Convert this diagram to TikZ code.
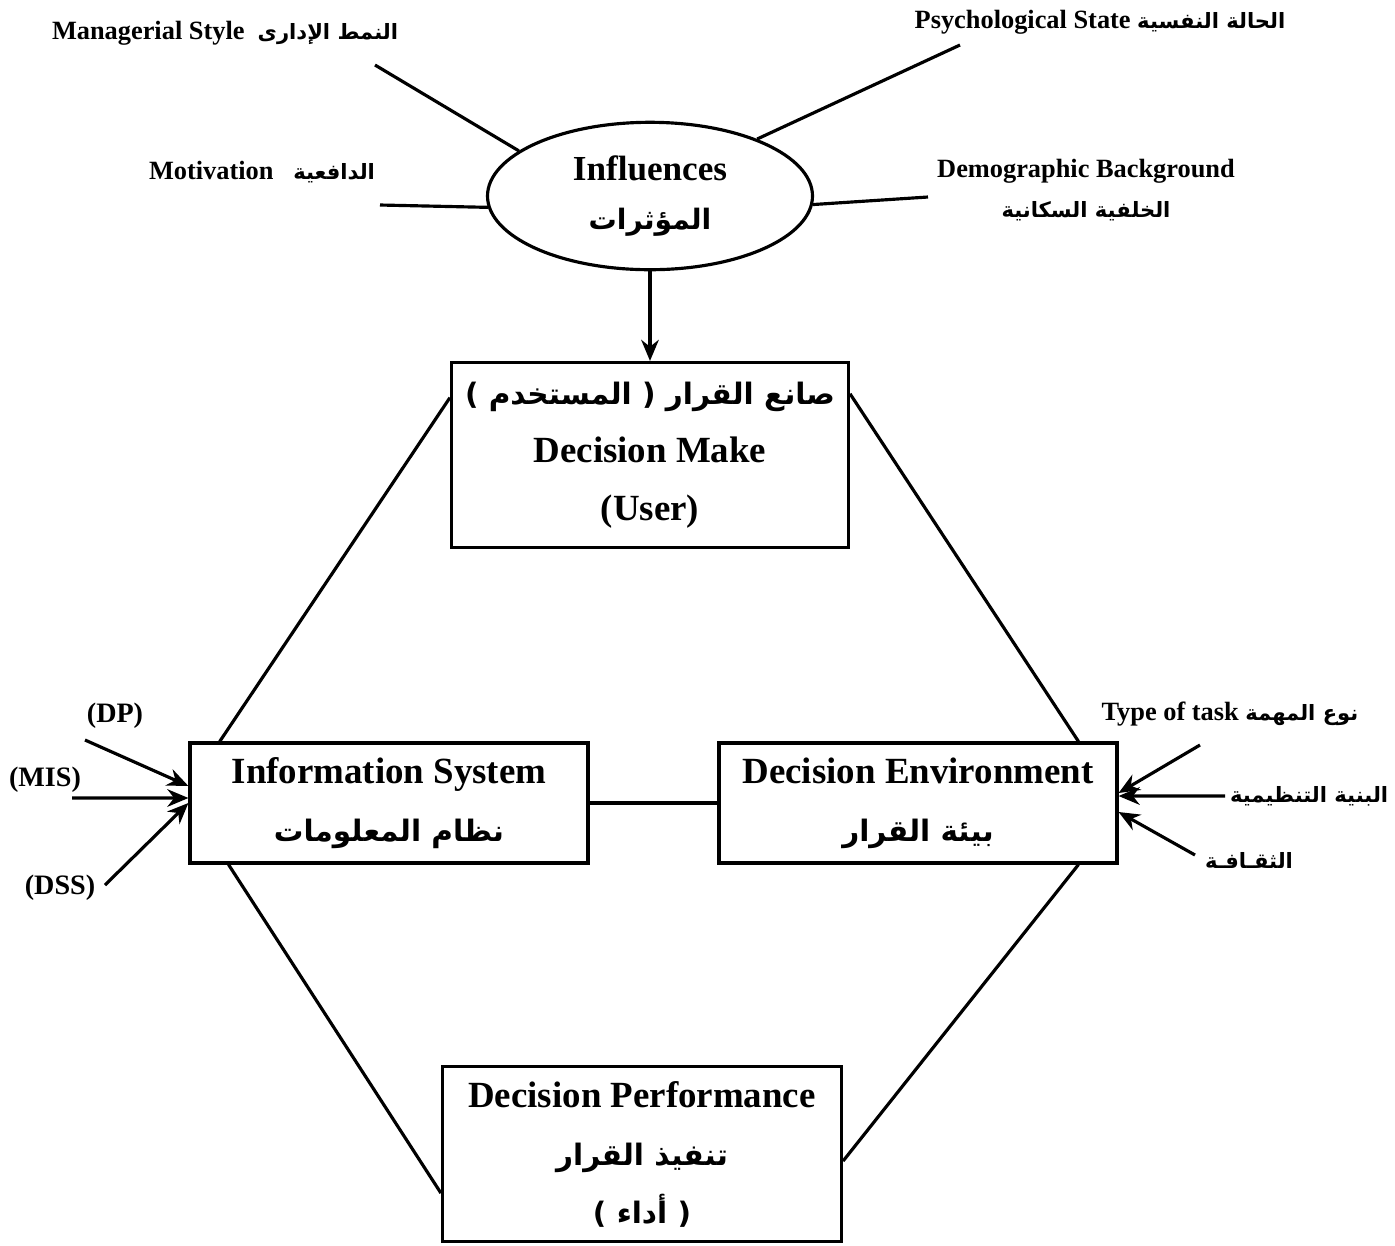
\documentclass[tikz,border=0pt]{standalone}
\usepackage{fontspec}
\setmainfont{Liberation Serif}
\newfontfamily\arabicfont[Script=Arabic,Scale=0.8]{DejaVu Sans}
\TeXXeTstate=1
\usetikzlibrary{shapes.geometric, arrows.meta}
\newcommand{\arb}[1]{{\arabicfont\beginR #1\endR}}

\begin{document}
\begin{tikzpicture}[x=0.1mm, y=-0.1mm, >={Stealth[length=6pt, width=5pt]}, line width=0.9pt]
\tikzset{
  box/.style={draw, rectangle, align=center, inner xsep=2pt, font=\fontsize{10.5}{16.5}\selectfont\bfseries},
  factor/.style={inner sep=1pt, align=center, font=\fontsize{7.5}{11.3}\selectfont\bfseries},
  tool/.style={inner sep=1pt, font=\fontsize{8}{10}\selectfont\bfseries}
}
\useasboundingbox (0,0) rectangle (1395,1245);

\node[draw, ellipse, minimum width=32.5mm, minimum height=13.2mm, align=center, font=\fontsize{10}{12}\selectfont\bfseries] (infl) at (650,196) {Influences\\[2pt]\arb{المؤثرات}};
\node[box, minimum width=39.7mm, minimum height=18.5mm] (dm) at (650,455) {\arb{صانع القرار ( المستخدم )}\\Decision Make\\(User)};
\node[box, minimum width=39.8mm, minimum height=12mm] (is) at (389,803) {Information System\\\arb{نظام المعلومات}};
\node[box, minimum width=39.8mm, minimum height=12mm] (de) at (918,803) {Decision Environment\\\arb{بيئة القرار}};
\node[box, minimum width=39.9mm, minimum height=17.5mm] (dp) at (642,1154) {Decision Performance\\\arb{تنفيذ القرار}\\\arb{( أداء )}};

\node[factor] (msl) at (225,33) {Managerial Style\ \ \arb{النمط الإدارى}};
\node[factor] (psl) at (1100,22) {Psychological State \arb{الحالة النفسية}};
\node[factor] (mol) at (262,172) {Motivation\ \ \ \arb{الدافعية}};
\node[factor] (dbl) at (1086,190) {Demographic Background\\\arb{الخلفية السكانية}};
\node[tool] (dpl) at (115,716) {(DP)};
\node[tool] (misl) at (45,780) {(MIS)};
\node[tool] (dssl) at (60,888) {(DSS)};
\node[factor] (tkl) at (1230,714) {Type of task \arb{نوع المهمة}};

\coordinate (ms-end) at (375,65);
\coordinate (ps-end) at (960,45);
\coordinate (mo-end) at (380,205);
\coordinate (db-end) at (928,197);
\coordinate (dp-end) at (85,740);
\coordinate (mis-end) at (72,798);
\coordinate (dss-end) at (105,885);
\coordinate (tk-end) at (1200,745);
\coordinate (os-end) at (1225,796);
\coordinate (cu-end) at (1195,855);

\node[factor, anchor=west] (osl) at (os-end) {\arb{البنية التنظيمية}};
\node[factor, anchor=west] (cul) at ([shift={(5,5)}]cu-end) {\arb{الثقـافـة}};

\draw (ms-end) -- (infl.161);
\draw (ps-end) -- (infl.28);
\draw (mo-end) -- (infl.184);
\draw (db-end) -- (infl.357);
\draw[->] (infl.south) -- (dm.north);

\draw (dm.164) -- (is.160);
\draw (dm.17) -- (de.21);
\draw (is.201) -- (dp.191);
\draw (de.339) -- (dp.358);
\draw (is.east) -- (de.west);

\draw[->] (dp-end) -- ([yshift=1.7mm]is.west);
\draw[->] (mis-end) -- ([yshift=0.5mm]is.west);
\draw[->] (dss-end) -- (is.west);
\draw[->] (tk-end) -- ([yshift=1mm]de.east);
\draw[->] (os-end) -- ([yshift=0.7mm]de.east);
\draw[->] (cu-end) -- ([yshift=-0.9mm]de.east);
\end{tikzpicture}
\end{document}
